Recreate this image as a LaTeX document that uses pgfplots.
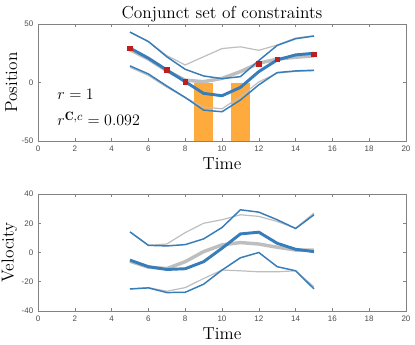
\documentclass[border=0pt]{standalone}
\usepackage{fontspec}
\setsansfont{Liberation Sans}
\usepackage{pgfplots}
\pgfplotsset{compat=1.18}
\definecolor{mblue}{RGB}{55,125,185}
\definecolor{mgray}{RGB}{190,190,190}
\definecolor{mred}{RGB}{190,30,30}
\definecolor{morange}{RGB}{255,170,60}
\definecolor{axgray}{RGB}{130,130,130}

\pgfplotsset{
  mat/.style={
    scale only axis, width=276pt, height=87.75pt,
    xmin=0, xmax=20, xtick={0,2,...,20},
    axis line style={axgray, line width=0.5pt},
    tick style={axgray, line width=0.4pt},
    tick align=inside, major tick length=2.5pt,
    tick label style={font=\sffamily\fontsize{6}{7}\selectfont, text=black!70},
    /pgf/number format/assume math mode=true,
    xlabel={Time}, label style={font=\fontsize{13}{15}\selectfont},
    xlabel style={yshift=2pt},
    ylabel style={yshift=-3.5pt},
    clip=true,
  },
  thin gray/.style={mgray, line width=0.9pt},
  thick gray/.style={mgray, line width=2.6pt},
  thin blue/.style={mblue, line width=1.1pt},
  thick blue/.style={mblue, line width=2.2pt},
}

\begin{document}
\begin{tikzpicture}
\useasboundingbox (-28.5pt,-24.75pt) rectangle (282.75pt,233.25pt);
% ---------- position ----------
\begin{axis}[mat, at={(0,127.5pt)}, anchor=south west,
    ymin=-50, ymax=50, ytick={-50,0,50},
    ylabel={Position},
    title={Conjunct set of constraints},
    title style={font=\fontsize{13}{15}\selectfont, yshift=-8pt}]
  \fill[morange] (axis cs:8.5,-50) rectangle (axis cs:9.5,0);
  \fill[morange] (axis cs:10.5,-50) rectangle (axis cs:11.5,0);
  % gray (unconstrained)
  \addplot[thin gray] coordinates {(5,43)(6,35)(7,23)(8,15)(9,22)(10,29)(11,30.5)(12,27.5)(13,32)(14,38)(15,40)};
  \addplot[thick gray] coordinates {(5,28)(6,20)(7,10)(8,2)(9,0.7)(10,3.5)(11,9.3)(12,16.5)(13,20)(14,21.6)(15,22.8)};
  \addplot[thin gray] coordinates {(5,13)(6,6)(7,-4)(8,-13)(9,-21)(10,-22.5)(11,-12)(12,0.5)(13,8)(14,9.5)(15,10)};
  % blue (constrained)
  \addplot[thin blue] coordinates {(5,43.1)(6,35)(7,22)(8,11.3)(9,5.6)(10,3.3)(11,5)(12,18.8)(13,31.7)(14,37.4)(15,39.7)};
  \addplot[thick blue] coordinates {(5,29.4)(6,20.8)(7,10.7)(8,0.7)(9,-9.3)(10,-11.3)(11,-4.2)(12,9.3)(13,19.3)(14,23.6)(15,25)};
  \addplot[thin blue] coordinates {(5,14.2)(6,7.3)(7,-3)(8,-12.8)(9,-23.6)(10,-25)(11,-15)(12,-2)(13,8.5)(14,9.9)(15,10.5)};
  % observations
  \addplot[only marks, mark=square*, mark size=1.7pt, mred] coordinates {(5,29.4)(7,10.7)(8,0.5)(12,15.9)(13,19.9)(15,24.2)};
  \node[anchor=west, font=\fontsize{13}{15}\selectfont] at (axis cs:0.8,-10) {$r=1$};
  \node[anchor=west, font=\fontsize{13}{15}\selectfont] at (axis cs:0.8,-31) {$r^{\mathbf{C},c}=0.092$};
\end{axis}
% ---------- velocity ----------
\begin{axis}[mat, at={(0,0)}, anchor=south west,
    ymin=-40, ymax=40, ytick={-40,-20,0,20,40},
    ylabel={Velocity}]
  \addplot[thin gray] coordinates {(5,14)(6,4.9)(7,5.8)(8,13.6)(9,20)(10,22.4)(11,25.8)(12,24.7)(13,21.2)(14,16.6)(15,27)};
  \addplot[thick gray] coordinates {(5,-6)(6,-10)(7,-11)(8,-6.3)(9,0.6)(10,5.2)(11,6.8)(12,5.8)(13,3.6)(14,1.7)(15,1.7)};
  \addplot[thin gray] coordinates {(5,-25)(6,-24)(7,-26.5)(8,-24)(9,-17.8)(10,-12)(11,-12.5)(12,-13.2)(13,-13.2)(14,-12.5)(15,-23.5)};
  \addplot[thin blue] coordinates {(5,14.1)(6,4.9)(7,4.5)(8,5.4)(9,9.3)(10,17.1)(11,29.2)(12,27.6)(13,22.4)(14,16.4)(15,25.8)};
  \addplot[thick blue] coordinates {(5,-5.2)(6,-9.7)(7,-11.6)(8,-11.1)(9,-6.3)(10,2.9)(11,12.7)(12,13.9)(13,6.3)(14,2.2)(15,0.6)};
  \addplot[thin blue] coordinates {(5,-24.9)(6,-24.2)(7,-27.4)(8,-27.2)(9,-21.7)(10,-12)(11,-3.6)(12,0)(13,-9.7)(14,-12.5)(15,-24.9)};
\end{axis}
\end{tikzpicture}
\end{document}
